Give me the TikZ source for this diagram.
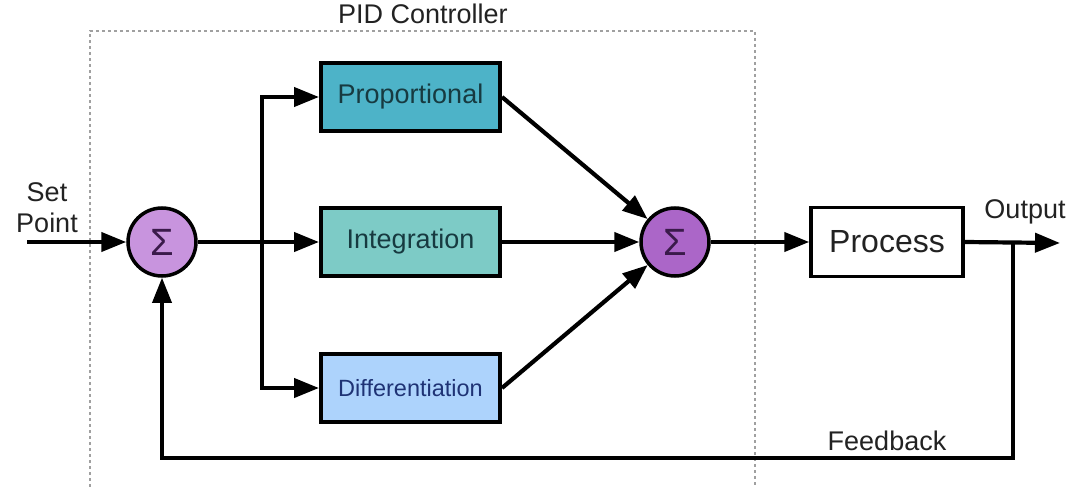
\documentclass[tikz,border=0pt]{standalone}
\usepackage{fontspec}
\setmainfont{Liberation Sans}
\usetikzlibrary{arrows.meta}
\definecolor{propfill}{HTML}{4DB3C8}
\definecolor{intfill}{HTML}{7DCBC6}
\definecolor{difffill}{HTML}{ADD3FC}
\definecolor{sumonefill}{HTML}{C894DE}
\definecolor{sumtwofill}{HTML}{AB66C8}
\definecolor{tealtext}{HTML}{173A40}
\definecolor{bluetext}{HTML}{1F3375}
\definecolor{sigmatext}{HTML}{3A1A4A}
\definecolor{labeltext}{HTML}{222222}
\definecolor{dashgray}{HTML}{A0A0A0}
\tikzset{
  blockbox/.style={draw=black, line width=4pt, minimum width=179pt, minimum height=68pt, inner sep=0pt, font=\fontsize{27}{30}\selectfont},
  sumnode/.style={circle, draw=black, line width=3.5pt, minimum size=68pt, inner sep=0pt, text=sigmatext, font=\fontsize{38}{40}\selectfont},
  tipstyle/.style={-{Triangle[length=25pt,width=19pt]}},
  conn/.style={line width=4.2pt, tipstyle},
  plainline/.style={line width=3.5pt},
  lbl/.style={text=labeltext, font=\fontsize{27}{30}\selectfont, inner sep=0pt},
  pidbox/.style={draw=dashgray, line width=1.3pt, dash pattern=on 3pt off 3pt}
}
\begin{document}
\begin{tikzpicture}[x=1pt,y=-1pt]
\useasboundingbox (0,0) rectangle (1068,487);
% PID controller dashed frame
\coordinate (fbl) at (90,487);
\coordinate (ftl) at (90,31);
\coordinate (ftr) at (755,31);
\coordinate (fbr) at (755,487);
\draw[pidbox] (fbl) -- (ftl) -- (ftr) -- (fbr);
\node[lbl] (pidlabel) at (423,14) {PID Controller};
% nodes
\node[sumnode, fill=sumonefill] (s1) at (162,242) {Σ};
\node[sumnode, fill=sumtwofill] (s2) at (675,242) {Σ};
\node[blockbox, fill=propfill, text=tealtext] (P) at (410.5,97) {Proportional};
\node[blockbox, fill=intfill, text=tealtext] (I) at (410.5,242) {Integration};
\node[blockbox, fill=difffill, text=bluetext, font=\fontsize{23.5}{26}\selectfont] (D) at (410.5,388) {Differentiation};
\node[draw=black, line width=3.5pt, minimum width=152pt, minimum height=69pt, inner sep=0pt, font=\fontsize{32}{34}\selectfont, text=labeltext] (proc) at (887,242) {Process};
% labels
\node[lbl, align=center, font=\fontsize{27}{31}\selectfont] (sp) at (47,208) {Set\\Point};
\node[lbl] (outlbl) at (1025,212) {Output};
\node[lbl] (fblbl) at (887,441) {Feedback};
% coordinates
\coordinate (in) at (27,242);
\coordinate (br) at (262,242);
\coordinate (out) at (1060,243);
\coordinate (fb) at (1013,243);
\coordinate (fbb) at (1013,458);
\coordinate (fbl2) at (162,458);
% connectors
\draw[conn] (in) -- (s1.west);
\draw[conn] (s1.east) -- (I.west);
\draw[conn] (br) |- (P.west);
\draw[conn] (br) |- (D.west);
\draw[conn] (P.east) -- (s2);
\draw[conn] (I.east) -- (s2.west);
\draw[conn] (D.east) -- (s2);
\draw[conn] (s2.east) -- (proc.west);
\draw[conn] (proc.east) -- (out);
\draw[plainline, tipstyle] (fb) -- (fbb) -- (fbl2) -- (s1.south);
\end{tikzpicture}
\end{document}
